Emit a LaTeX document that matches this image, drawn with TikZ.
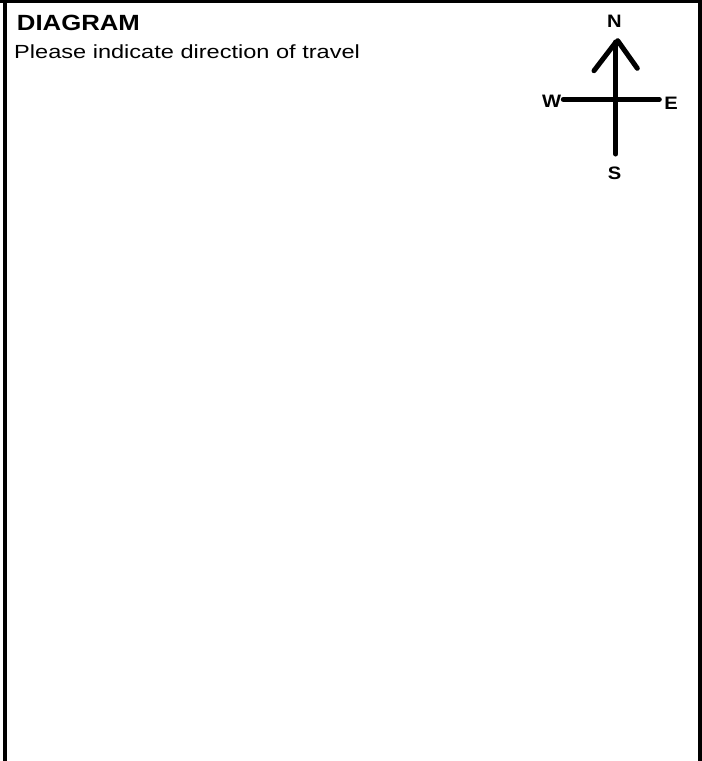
\documentclass[tikz,border=0pt]{standalone}
\usepackage{fontspec}
\setmainfont{Liberation Sans}
\begin{document}
\begin{tikzpicture}[x=1pt,y=-1pt,
  frame/.style={line width=#1, line cap=butt},
  arm/.style={line width=5pt, line cap=round},
  dirlabel/.style={font=\fontsize{18}{18}\selectfont\bfseries, inner sep=0pt, anchor=center, xscale=1.12, transform shape},
  txt/.style={inner sep=0pt, anchor=base west, xscale=#1, transform shape}]
\useasboundingbox (0,0) rectangle (702,761);
\fill[white] (0,0) rectangle (702,761);
% frame
\draw[frame=3.4pt] (0,1.7) -- (702,1.7);
\draw[frame=4pt] (5.3,0) -- (5.3,761);
\draw[frame=3.6pt] (700.2,0) -- (700.2,761);
% texts
\node[txt=1.17, font=\fontsize{22}{22}\selectfont\bfseries] (title) at (16.7,30.5) {DIAGRAM};
\node[txt=1.24, font=\fontsize{19}{19}\selectfont] (sub) at (14,58) {Please indicate direction of travel};
% compass
\coordinate (ntop) at (615.7,42);
\coordinate (sbot) at (615.7,154);
\coordinate (wend) at (563.3,99.3);
\coordinate (eend) at (659.3,99.3);
\coordinate (la) at (594,70.7);
\coordinate (lb) at (615,43.3);
\coordinate (ra) at (617.7,40.7);
\coordinate (rb) at (637.3,68.3);
\draw[arm] (ntop) -- (sbot);
\draw[arm] (wend) -- (eend);
\draw[arm] (la) -- (lb);
\draw[arm] (ra) -- (rb);
\node[dirlabel] (N) at (614.5,21) {N};
\node[dirlabel] (W) at (551.7,101) {W};
\node[dirlabel] (E) at (671,103) {E};
\node[dirlabel] (S) at (614.5,173.5) {S};
\end{tikzpicture}
\end{document}
